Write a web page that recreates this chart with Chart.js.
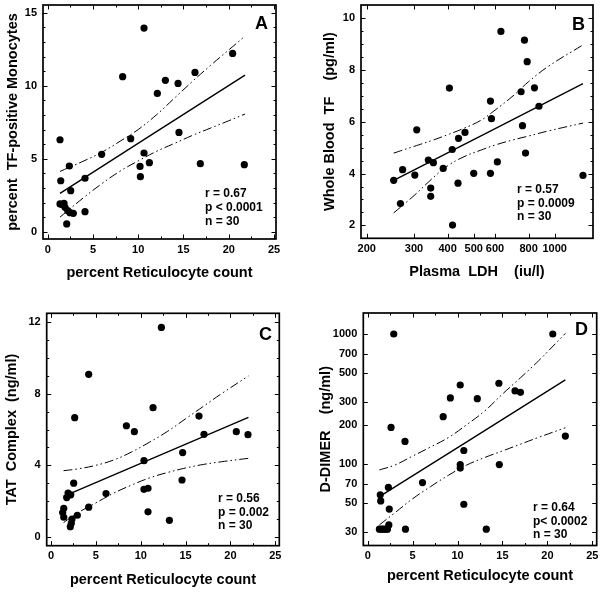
<!DOCTYPE html>
<html>
<head>
<meta charset="utf-8">
<script src="https://cdn.jsdelivr.net/npm/chart.js@4.4.1/dist/chart.umd.min.js"></script>
<style>
  html, body { margin: 0; background: #fff; }
  #wrap { position: relative; width: 603px; height: 593px; }
  canvas { position: absolute; left: 0; top: 0; }
</style>
</head>
<body>
<div id="wrap">
  <canvas id="cA" width="603" height="593"></canvas>
  <canvas id="cB" width="603" height="593"></canvas>
  <canvas id="cC" width="603" height="593"></canvas>
  <canvas id="cD" width="603" height="593"></canvas>
</div>
<script>
// ---- panel A: TF-positive monocytes vs reticulocytes
const aX = [10.64, 8.28, 20.43, 16.27, 13.0, 14.4, 12.11, 9.17, 14.5, 1.36, 5.96, 10.64, 10.2, 11.23, 16.86, 21.72, 10.24, 2.39, 1.44, 4.12, 2.54, 1.36, 1.8, 1.91, 2.46, 2.83, 4.12, 2.1, 2.2, 1.6];
const aY = [13.95, 10.62, 12.21, 10.91, 10.37, 10.16, 9.47, 6.37, 6.80, 6.30, 5.30, 5.39, 4.47, 4.73, 4.66, 4.59, 3.77, 4.5, 3.49, 3.66, 2.81, 1.90, 1.95, 1.67, 1.30, 1.26, 1.37, 0.53, 1.45, 1.85];
const aFitX = [1.36, 21.8];
const aFitY = [2.63, 10.73];
const aBandX = [1.36, 4, 6, 8, 10, 12, 14, 16, 18, 20, 21.8];
const aUpY = [4.13, 4.85, 5.45, 6.2, 7.0, 8.0, 9.15, 10.3, 11.4, 12.45, 13.4];
const aLoY = [1.0, 2.35, 3.3, 4.15, 4.85, 5.5, 6.05, 6.6, 7.1, 7.6, 8.06];

// ---- panel B: whole blood TF vs plasma LDH
const bX = [252, 267, 272, 302, 307, 339, 346, 346, 354, 385, 406, 416, 439, 437, 417, 464, 500, 577, 582, 577, 612, 631, 750, 759, 772, 779, 790, 841, 874, 1274];
const bY = [3.74, 2.84, 4.15, 3.94, 5.69, 4.52, 3.44, 3.12, 4.42, 4.20, 7.30, 4.93, 5.36, 3.63, 2.01, 5.59, 4.01, 6.80, 6.12, 4.01, 4.45, 9.49, 7.16, 5.85, 9.15, 4.79, 8.32, 7.31, 6.60, 3.93];
const bFitX = [252, 1274];
const bFitY = [3.74, 7.47];
const bBandX = [252, 300, 350, 400, 460, 530, 600, 700, 800, 950, 1274];
const bUpY = [4.79, 5.05, 5.28, 5.5, 5.75, 6.05, 6.45, 7.0, 7.55, 8.15, 8.97];
const bLoY = [2.48, 3.15, 3.8, 4.3, 4.65, 4.9, 5.1, 5.3, 5.45, 5.65, 5.95];

// ---- panel C: TAT complex vs reticulocytes
const cX = [12.3, 4.2, 2.64, 8.4, 9.29, 11.37, 16.49, 17.05, 20.65, 21.95, 14.67, 10.36, 14.6, 2.53, 10.36, 10.81, 6.13, 1.9, 2.2, 1.75, 4.2, 10.81, 13.19, 2.93, 1.42, 1.30, 1.42, 2.34, 2.26, 2.15];
const cY = [11.7, 9.08, 6.66, 6.21, 5.88, 7.22, 6.75, 5.73, 5.88, 5.71, 4.71, 4.26, 3.18, 3.0, 2.66, 2.72, 2.42, 2.45, 2.35, 2.2, 1.66, 1.40, 0.93, 1.21, 1.60, 1.36, 1.10, 1.0, 0.76, 0.57];
const cFitX = [1.4, 22.0];
const cFitY = [2.26, 6.68];
const cBandX = [1.4, 3, 5, 7, 9, 11, 13, 15, 17, 19, 22];
const cUpY = [3.70, 3.8, 4.0, 4.3, 4.75, 5.3, 5.9, 6.6, 7.3, 8.0, 8.99];
const cLoY = [0.8, 1.35, 1.9, 2.45, 2.9, 3.3, 3.6, 3.85, 4.05, 4.2, 4.39];

// ---- panel D: D-dimer vs reticulocytes
const dX = [2.9, 20.6, 2.6, 4.15, 8.4, 9.2, 10.3, 12.2, 14.6, 16.4, 17.0, 22.0, 10.7, 10.3, 10.3, 14.65, 6.1, 2.3, 1.4, 1.45, 2.4, 10.7, 4.2, 13.2, 1.3, 1.75, 2.2, 2.35, 1.55, 2.0];
const dY = [1000, 1000, 191, 149, 231, 322, 405, 318, 418, 365, 356, 164, 127, 99, 93, 99, 72, 66, 58, 52, 45, 49, 31.5, 31.5, 31.5, 31.5, 31.5, 34, 31.5, 31.5];
const dFitX = [1.3, 22.0];
const dFitY = [56, 443];
const dBandX = [1.3, 3, 5, 7, 9, 11, 13, 15, 17, 19, 22];
const dUpY = [90, 98, 115, 135, 160, 200, 255, 345, 460, 620, 1010];
const dLoY = [34, 42, 54, 67, 82, 98, 112, 126, 142, 160, 190];

// ---- axes
const retTicks = [0, 5, 10, 15, 20, 25];
const retMinor = [2.5, 7.5, 12.5, 17.5, 22.5];
const aYTicks = [0, 5, 10, 15];
const aYMinor = [1, 2, 3, 4, 6, 7, 8, 9, 11, 12, 13, 14];
const ldhTicks = [200, 300, 400, 500, 600, 800, 1000];
const bYTicks = [2, 4, 6, 8, 10];
const bYMinor = [2.5, 3, 3.5, 4.5, 5, 5.5, 6.5, 7, 7.5, 8.5, 9, 9.5];
const cYTicks = [0, 4, 8, 12];
const cYMinor = [1, 2, 3, 5, 6, 7, 9, 10, 11];
const dYTicks = [30, 50, 70, 100, 200, 300, 500, 700, 1000];

const FONT = '"Liberation Sans", Arial, Helvetica, sans-serif';
Chart.defaults.font.family = FONT;
Chart.defaults.color = '#000';

const pts = (xs, ys) => xs.map((x, i) => ({ x, y: ys[i] }));
const DASH = [9, 3, 1.5, 3, 1.5, 3];

// frame with inward ticks, panel letter and stats block
const panelDeco = {
  id: 'panelDeco',
  afterDatasetsDraw(chart, args, o) {
    const { ctx, chartArea: a, scales: { x, y } } = chart;
    ctx.save();
    ctx.strokeStyle = '#000';
    ctx.lineWidth = 1;
    const tick = (sc, vals, len) => vals.forEach(v => {
      const p = Math.round(sc.getPixelForValue(v)) + 0.5;
      ctx.beginPath();
      if (sc.isHorizontal()) {
        ctx.moveTo(p, a.bottom); ctx.lineTo(p, a.bottom - len);
        ctx.moveTo(p, a.top); ctx.lineTo(p, a.top + len);
      } else {
        ctx.moveTo(a.left, p); ctx.lineTo(a.left + len, p);
        ctx.moveTo(a.right, p); ctx.lineTo(a.right - len, p);
      }
      ctx.stroke();
    });
    tick(x, o.xMajor, 4.5); tick(x, o.xMinor, 2.5);
    tick(y, o.yMajor, 4.5); tick(y, o.yMinor, 2.5);
    ctx.lineWidth = 1.7;
    ctx.strokeRect(a.left, a.top, a.right - a.left, a.bottom - a.top);

    ctx.fillStyle = '#000';
    ctx.textBaseline = 'middle';
    ctx.textAlign = 'right';
    ctx.font = 'bold 18px ' + FONT;
    ctx.fillText(o.letter, o.letterAt[0], o.letterAt[1]);
    ctx.textAlign = 'left';
    ctx.font = 'bold 12px ' + FONT;
    o.stats.forEach((s, i) => ctx.fillText(s, o.statsAt[0], o.statsAt[1] + i * o.statsAt[2]));
    ctx.restore();
  }
};

function makePanel(id, p) {
  const [l, t, r, b] = p.box;
  const axis = (type, min, max, ticks, title, size, horiz) => ({
    type, min, max,
    afterBuildTicks: s => { s.ticks = ticks.map(v => ({ value: v })); },
    afterFit: s => {
      if (horiz) s.height = size; else s.width = size;
      s.paddingLeft = s.paddingRight = s.paddingTop = s.paddingBottom = 0;
    },
    grid: { display: false, drawTicks: false },
    border: { display: false },
    ticks: {
      padding: horiz ? 4 : 6, autoSkip: false, maxRotation: 0,
      font: { size: 11, weight: 'bold' }, color: '#000',
      callback: v => String(v)
    },
    title: { display: true, text: title, padding: 0, color: '#000', font: { size: 14.5, weight: 'bold' } }
  });
  const line = (xs, ys, dash, w) => ({
    data: pts(xs, ys), showLine: true, pointRadius: 0, borderColor: '#000',
    borderWidth: w, borderDash: dash, tension: 0.4, fill: false
  });
  return new Chart(document.getElementById(id), {
    type: 'scatter',
    data: {
      datasets: [
        { data: pts(p.xs, p.ys), pointRadius: 3.6, pointBackgroundColor: '#000', pointBorderWidth: 0, showLine: false },
        line(p.fitX, p.fitY, [], 1.4),
        line(p.bandX, p.upY, DASH, 1),
        line(p.bandX, p.loY, DASH, 1)
      ]
    },
    options: {
      responsive: false, animation: false,
      layout: { padding: { left: l - p.yw, top: t, right: 603 - r, bottom: 593 - b - p.xh } },
      scales: {
        x: axis(p.xType, p.xMin, p.xMax, p.xTicks, p.xTitle, p.xh, true),
        y: axis(p.yType, p.yMin, p.yMax, p.yTicks, p.yTitle, p.yw, false)
      },
      plugins: {
        legend: { display: false }, tooltip: { enabled: false },
        panelDeco: {
          xMajor: p.xTicks, xMinor: p.xMinor, yMajor: p.yTicks, yMinor: p.yMinor,
          letter: p.letter, letterAt: p.letterAt, stats: p.stats, statsAt: p.statsAt
        }
      }
    },
    plugins: [panelDeco]
  });
}

makePanel('cA', {
  box: [43, 5, 276, 239], yw: 38.4, xh: 42.7,
  xType: 'linear', xMin: -0.52, xMax: 25.22, xTicks: retTicks, xMinor: retMinor,
  yType: 'linear', yMin: -0.5, yMax: 15.53, yTicks: aYTicks, yMinor: aYMinor,
  xTitle: 'percent Reticulocyte count', yTitle: 'percent  TF-positive Monocytes',
  xs: aX, ys: aY, fitX: aFitX, fitY: aFitY, bandX: aBandX, upY: aUpY, loY: aLoY,
  letter: 'A', letterAt: [268, 24],
  stats: ['r = 0.67', 'p < 0.0001', 'n = 30'], statsAt: [205, 194, 14]
});

makePanel('cB', {
  box: [361, 5, 593, 238.3], yw: 39.4, xh: 42.8,
  xType: 'logarithmic', xMin: 190.5, xMax: 1388, xTicks: ldhTicks, xMinor: [],
  yType: 'linear', yMin: 1.5, yMax: 10.51, yTicks: bYTicks, yMinor: bYMinor,
  xTitle: 'Plasma  LDH    (iu/l)', yTitle: 'Whole Blood  TF    (pg/ml)',
  xs: bX, ys: bY, fitX: bFitX, fitY: bFitY, bandX: bBandX, upY: bUpY, loY: bLoY,
  letter: 'B', letterAt: [585, 25],
  stats: ['r = 0.57', 'p = 0.0009', 'n = 30'], statsAt: [517, 190, 13.5]
});

makePanel('cC', {
  box: [46.7, 313.3, 279.3, 545.7], yw: 43.4, xh: 42.7,
  xType: 'linear', xMin: -0.48, xMax: 25.44, xTicks: retTicks, xMinor: retMinor,
  yType: 'linear', yMin: -0.49, yMax: 12.49, yTicks: cYTicks, yMinor: cYMinor,
  xTitle: 'percent Reticulocyte count', yTitle: 'TAT  Complex  (ng/ml)',
  xs: cX, ys: cY, fitX: cFitX, fitY: cFitY, bandX: cBandX, upY: cUpY, loY: cLoY,
  letter: 'C', letterAt: [272, 335],
  stats: ['r = 0.56', 'p = 0.002', 'n = 30'], statsAt: [218, 499, 13.5]
});

makePanel('cD', {
  box: [363.3, 313, 596.7, 545.5], yw: 45.7, xh: 39.6,
  xType: 'linear', xMin: -0.49, xMax: 25.49, xTicks: retTicks, xMinor: retMinor,
  yType: 'logarithmic', yMin: 23.6, yMax: 1450, yTicks: dYTicks, yMinor: [],
  xTitle: 'percent Reticulocyte count', yTitle: 'D-DIMER    (ng/ml)',
  xs: dX, ys: dY, fitX: dFitX, fitY: dFitY, bandX: dBandX, upY: dUpY, loY: dLoY,
  letter: 'D', letterAt: [588, 330],
  stats: ['r = 0.64', 'p< 0.0002', 'n = 30'], statsAt: [533, 508, 13.5]
});
</script>
</body>
</html>
